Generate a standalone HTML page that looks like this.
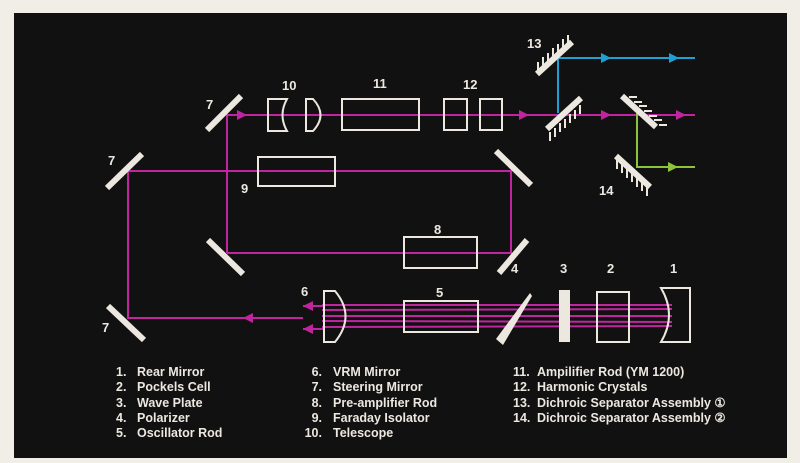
<!DOCTYPE html>
<html><head><meta charset="utf-8"><style>
html,body{margin:0;padding:0;background:#f1eee8;}
svg{display:block}
text{font-family:"Liberation Sans",Arial,sans-serif;font-weight:bold;fill:#ece8e0}
</style></head><body>
<svg width="800" height="463" viewBox="0 0 800 463" xmlns="http://www.w3.org/2000/svg">
<rect x="0" y="0" width="800" height="463" fill="#f1eee8"/>
<rect x="14" y="13" width="773" height="445" fill="#121112"/>

<g stroke="#c0249e" stroke-width="2" fill="none">
<polyline points="227,253 227,115 695,115"/>
<polyline points="227,253 511,253 511,171 128,171 128,318 303,318"/>
<line x1="322" y1="305" x2="672" y2="305"/>
<line x1="322" y1="310" x2="672" y2="309"/>
<line x1="322" y1="316" x2="672" y2="316"/>
<line x1="322" y1="321" x2="672" y2="322"/>
<line x1="322" y1="327" x2="672" y2="326"/>
<line x1="303" y1="306" x2="324" y2="306"/>
<line x1="303" y1="329" x2="324" y2="329"/>
</g>
<g fill="#c0249e">
<path d="M237,110L247,115L237,120z"/>
<path d="M519,110L529,115L519,120z"/>
<path d="M601,110L611,115L601,120z"/>
<path d="M676,110L686,115L676,120z"/>
<path d="M253,313L243,318L253,323z"/>
<path d="M313,301L303,306L313,311z"/>
<path d="M313,324L303,329L313,334z"/>
</g>
<g stroke="#1f9fd2" stroke-width="2" fill="none"><polyline points="558,113 558,58 695,58"/></g>
<g fill="#1f9fd2"><path d="M601,53L611,58L601,63z"/><path d="M669,53L679,58L669,63z"/></g>
<g stroke="#8cc43c" stroke-width="2" fill="none"><polyline points="637,113 637,167 695,167"/></g>
<g fill="#8cc43c"><path d="M668,162L678,167L668,172z"/></g>

<g stroke="#ece8e0" stroke-width="6" stroke-linecap="butt">
<line x1="207" y1="130" x2="241" y2="96"/>
<line x1="107" y1="188" x2="142" y2="154"/>
<line x1="496" y1="151" x2="531" y2="185"/>
<line x1="208" y1="240" x2="243" y2="274"/>
<line x1="108" y1="306" x2="144" y2="340"/>
<line x1="499" y1="273" x2="527" y2="240"/>
<line x1="537" y1="74" x2="572" y2="42"/>
<line x1="547" y1="129" x2="581" y2="98"/>
<line x1="622" y1="96" x2="656" y2="127"/>
<line x1="616" y1="156" x2="650" y2="187"/>
</g>
<g stroke="#ece8e0" stroke-width="2">
<path d="M538,70v-8M543,65v-8M548,61v-8M553,56v-8M558,52v-8M563,47v-8M568,43v-8"/>
<path d="M550,132v9M555,128v9M560,123v9M565,119v9M570,114v9M575,110v9M580,105v9"/>
<path d="M629,97h8M634,102h8M639,106h8M644,111h8M649,116h8M654,120h8M659,125h8"/>
<path d="M617,160v9M622,164v9M627,169v9M632,173v9M637,178v9M642,182v9M647,187v9"/>
</g>

<g stroke="#ece8e0" stroke-width="2" fill="none">
<path d="M268,99H287Q278,115 287,131H268Z"/>
<path d="M306,99H313Q328,115 313,131H306Z"/>
<rect x="342" y="99" width="77" height="31"/>
<rect x="444" y="99" width="23" height="31"/>
<rect x="480" y="99" width="22" height="31"/>
<rect x="258" y="157" width="77" height="29"/>
<rect x="404" y="237" width="73" height="31"/>
<rect x="404" y="301" width="74" height="31"/>
<path d="M324,291H335Q356,316 335,342H324Z"/>
<rect x="597" y="292" width="32" height="50"/>
<path d="M661,288H690V342H661Q677,315 661,288Z"/>
</g>
<rect x="559" y="290" width="11" height="52" fill="#ece8e0"/>
<path d="M496,339L503,345L532,296L530,293Z" fill="#ece8e0"/>

<g font-size="13">
<text x="206" y="109">7</text>
<text x="108" y="165">7</text>
<text x="102" y="332">7</text>
<text x="282" y="90">10</text>
<text x="373" y="88">11</text>
<text x="463" y="89">12</text>
<text x="527" y="48">13</text>
<text x="599" y="195">14</text>
<text x="241" y="193">9</text>
<text x="434" y="234">8</text>
<text x="511" y="273">4</text>
<text x="560" y="273">3</text>
<text x="607" y="273">2</text>
<text x="670" y="273">1</text>
<text x="436" y="297">5</text>
<text x="301" y="296">6</text>
</g>
<g font-size="12.5">
<text x="116" y="376">1.</text><text x="137" y="376">Rear Mirror</text>
<text x="116" y="391">2.</text><text x="137" y="391">Pockels Cell</text>
<text x="116" y="407">3.</text><text x="137" y="407">Wave Plate</text>
<text x="116" y="422">4.</text><text x="137" y="422">Polarizer</text>
<text x="116" y="437">5.</text><text x="137" y="437">Oscillator  Rod</text>
<text x="322" y="376" text-anchor="end">6.</text><text x="333" y="376">VRM Mirror</text>
<text x="322" y="391" text-anchor="end">7.</text><text x="333" y="391">Steering Mirror</text>
<text x="322" y="407" text-anchor="end">8.</text><text x="333" y="407">Pre-amplifier  Rod</text>
<text x="322" y="422" text-anchor="end">9.</text><text x="333" y="422">Faraday Isolator</text>
<text x="322" y="437" text-anchor="end">10.</text><text x="333" y="437">Telescope</text>
<text x="513" y="376">11.</text><text x="537" y="376">Ampilifier Rod (YM 1200)</text>
<text x="513" y="391">12.</text><text x="537" y="391">Harmonic Crystals</text>
<text x="513" y="407">13.</text><text x="537" y="407">Dichroic Separator Assembly ①</text>
<text x="513" y="422">14.</text><text x="537" y="422">Dichroic Separator Assembly ②</text>
</g>
</svg>
</body></html>
